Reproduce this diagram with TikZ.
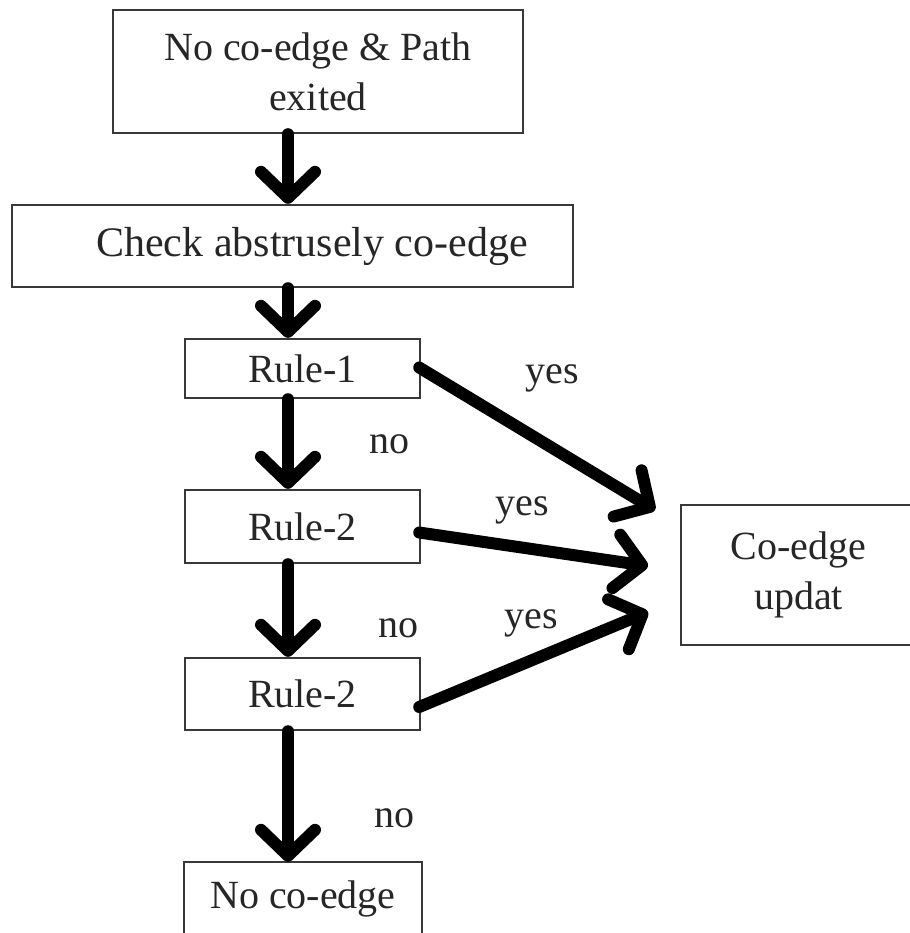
\documentclass[tikz,border=0pt]{standalone}
\usepackage{fontspec}
\setmainfont{Liberation Serif}
\usetikzlibrary{arrows.meta,calc}
\begin{document}
\begin{tikzpicture}[x=1pt,y=-1pt,
  boxline/.style={draw=black!78, line width=2.4pt},
  box/.style={boxline, rectangle, inner sep=0pt, align=center, text=black!85,
    font=\fontsize{40}{50}\selectfont},
  openbox/.style={box, draw=none},
  flow/.style={line width=12pt, line cap=round,
    -{Straight Barb[length=26pt,width=54pt,round]}},
  lbl/.style={anchor=base, text=black!85, font=\fontsize{40}{50}\selectfont}]
\useasboundingbox (0,0) rectangle (909,933);
\fill[white] (0,0) rectangle (909,933);

% process boxes
\node[box, minimum width=410pt, minimum height=123pt] (top) at (318,71.5)
  {No co-edge \& Path\\exited};
\node[box, minimum width=561pt, minimum height=82pt,
  font=\fontsize{42}{50}\selectfont] (chk) at (292.5,246)
  {\hspace*{39pt}Check abstrusely co-edge};
\node[box, minimum width=235pt, minimum height=59pt] (r1) at (302.5,368.5) {Rule-1};
\node[box, minimum width=235pt, minimum height=73pt] (r2) at (302.5,526.5) {Rule-2};
\node[box, minimum width=235pt, minimum height=72pt] (r3) at (302.5,694) {Rule-2};

% boxes running off the page edge
\node[openbox, minimum width=236pt, minimum height=72pt] (nc) at (303,899) {No co-edge};
\draw[boxline] (nc.south west) -- (nc.north west) -- (nc.north east) -- (nc.south east);
\node[openbox, minimum width=233pt, minimum height=138pt] (coe) at (798.5,575) {Co-edge\\updat};
\draw[boxline] (coe.north east) -- (coe.north west) -- (coe.south west) -- (coe.south east);

% main vertical flow
\coordinate (spine) at (288,0);
\draw[flow] (top.south -| spine) -- (chk.north -| spine);
\draw[flow] (chk.south -| spine) -- (r1.north -| spine);
\draw[flow] (r1.south -| spine) -- (r2.north -| spine);
\draw[flow] (r2.south -| spine) -- (r3.north -| spine);
\draw[flow] (r3.south -| spine) -- (nc.north -| spine);

% branches to the update box
\coordinate (t1) at (655,510);
\coordinate (t2) at (648,566);
\coordinate (t3) at (648,612);
\draw[flow] ($(r1.east)+(-2,-1)$) -- (t1);
\draw[flow] ($(r2.east)+(-2,6)$) -- (t2);
\draw[flow] ($(r3.east)+(-2,13)$) -- (t3);

% branch labels
\node[lbl] (y1) at (552,383) {yes};
\node[lbl] (n1) at (389,453) {no};
\node[lbl] (y2) at (522,515) {yes};
\node[lbl] (n2) at (398,637) {no};
\node[lbl] (y3) at (531,628) {yes};
\node[lbl] (n3) at (394,827) {no};
\end{tikzpicture}
\end{document}
